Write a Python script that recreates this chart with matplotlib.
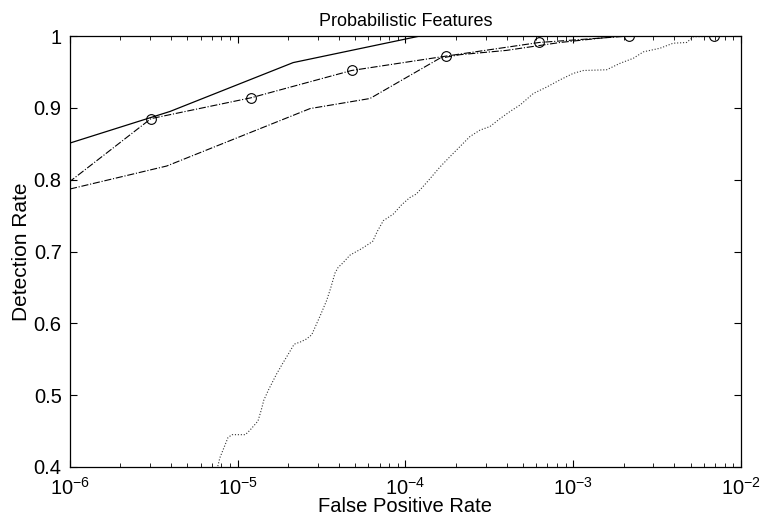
import matplotlib
matplotlib.use("Agg")
import matplotlib.pyplot as plt
from matplotlib.ticker import LogLocator, NullFormatter

plt.rcParams['font.family'] = ['Liberation Sans', 'DejaVu Sans']

# solid curve
fpr_solid = [1e-6, 3.95e-6, 2.14e-5, 1.22e-4, 1e-2]
det_solid = [0.851, 0.895, 0.963, 1.0, 1.0]

# dash-dot curve with circle markers
fpr_circ = [7.6e-7, 3.04e-6, 1.2e-5, 4.77e-5, 1.74e-4, 6.26e-4, 2.16e-3, 6.93e-3]
det_circ = [0.776, 0.885, 0.914, 0.952, 0.972, 0.991, 1.0, 1.0]

# plain dash-dot curve
fpr_dd = [1e-6, 3.77e-6, 2.7e-5, 6.14e-5, 1.6e-4, 2.11e-4, 4.0e-4, 8.34e-4, 1.45e-3, 1.9e-3, 1e-2]
det_dd = [0.787, 0.819, 0.899, 0.913, 0.969, 0.974, 0.980, 0.991, 0.997, 1.0, 1.0]

# dotted curve
fpr_dot = [7.40e-6, 7.55e-6, 7.83e-6, 8.28e-6, 8.75e-6, 9.25e-6, 1.11e-5, 1.18e-5, 1.32e-5,
           1.38e-5, 1.43e-5, 1.53e-5, 1.70e-5, 1.84e-5, 2.00e-5, 2.17e-5, 2.36e-5, 2.56e-5,
           2.76e-5, 3.12e-5, 3.39e-5, 3.58e-5, 3.80e-5, 3.97e-5, 4.23e-5, 4.67e-5, 5.48e-5,
           6.37e-5, 6.79e-5, 7.38e-5, 8.45e-5, 9.48e-5, 1.06e-4, 1.16e-4, 1.29e-4, 1.36e-4,
           1.61e-4, 1.84e-4, 2.11e-4, 2.42e-4, 2.78e-4, 3.19e-4, 3.66e-4, 4.20e-4, 4.82e-4,
           5.78e-4, 6.95e-4, 8.34e-4, 1.00e-3, 1.15e-3, 1.58e-3, 1.90e-3, 2.28e-3, 2.62e-3,
           3.29e-3, 3.94e-3, 4.74e-3, 5.20e-3, 1e-2]
det_dot = [0.385, 0.398, 0.413, 0.427, 0.441, 0.445, 0.445, 0.451, 0.464,
           0.479, 0.493, 0.508, 0.529, 0.543, 0.557, 0.571, 0.574, 0.578,
           0.584, 0.612, 0.632, 0.649, 0.670, 0.678, 0.684, 0.695, 0.704,
           0.714, 0.728, 0.743, 0.752, 0.765, 0.775, 0.780, 0.792, 0.798,
           0.818, 0.832, 0.846, 0.860, 0.869, 0.874, 0.885, 0.895, 0.904,
           0.920, 0.929, 0.939, 0.948, 0.952, 0.953, 0.962, 0.969, 0.978,
           0.983, 0.990, 0.991, 0.999, 1.0]

y_ticks = [0.4, 0.5, 0.6, 0.7, 0.8, 0.9, 1.0]
y_tick_labels = ['0.4', '0.5', '0.6', '0.7', '0.8', '0.9', '1']

fig = plt.figure(figsize=(7.63, 5.19), dpi=100)
ax = fig.add_axes([0.0917, 0.1002, 0.8795, 0.8304])

ax.plot(fpr_dot, det_dot, color='#333333', linestyle=':', linewidth=0.8)
ax.plot(fpr_dd, det_dd, color='black', linestyle='-.', linewidth=0.8)
ax.plot(fpr_circ, det_circ, color='black', linestyle='-.', linewidth=0.8,
        marker='o', markersize=7, markerfacecolor='none', markeredgewidth=0.8)
ax.plot(fpr_solid, det_solid, color='black', linestyle='-', linewidth=0.9)

ax.set_xscale('log')
ax.set_xlim(1e-6, 1e-2)
ax.set_ylim(0.4, 1.0)
ax.set_yticks(y_ticks)
ax.set_yticklabels(y_tick_labels)
ax.xaxis.set_minor_locator(LogLocator(base=10, subs=range(2, 10), numticks=20))
ax.xaxis.set_minor_formatter(NullFormatter())

ax.tick_params(which='both', direction='in', top=True, right=True, labelsize=14.5)
ax.tick_params(which='major', length=5, width=0.8)
ax.tick_params(which='minor', length=3, width=0.6)
ax.tick_params(axis='x', which='major', pad=7)
ax.tick_params(axis='y', which='major', pad=6)
for s in ax.spines.values():
    s.set_linewidth(0.9)

ax.set_xlabel('False Positive Rate', fontsize=14.5, labelpad=-1)
ax.set_ylabel('Detection Rate', fontsize=15, labelpad=2)
ax.set_title('Probabilistic Features', fontsize=13, pad=7)

fig.savefig('out.png', dpi=100)
